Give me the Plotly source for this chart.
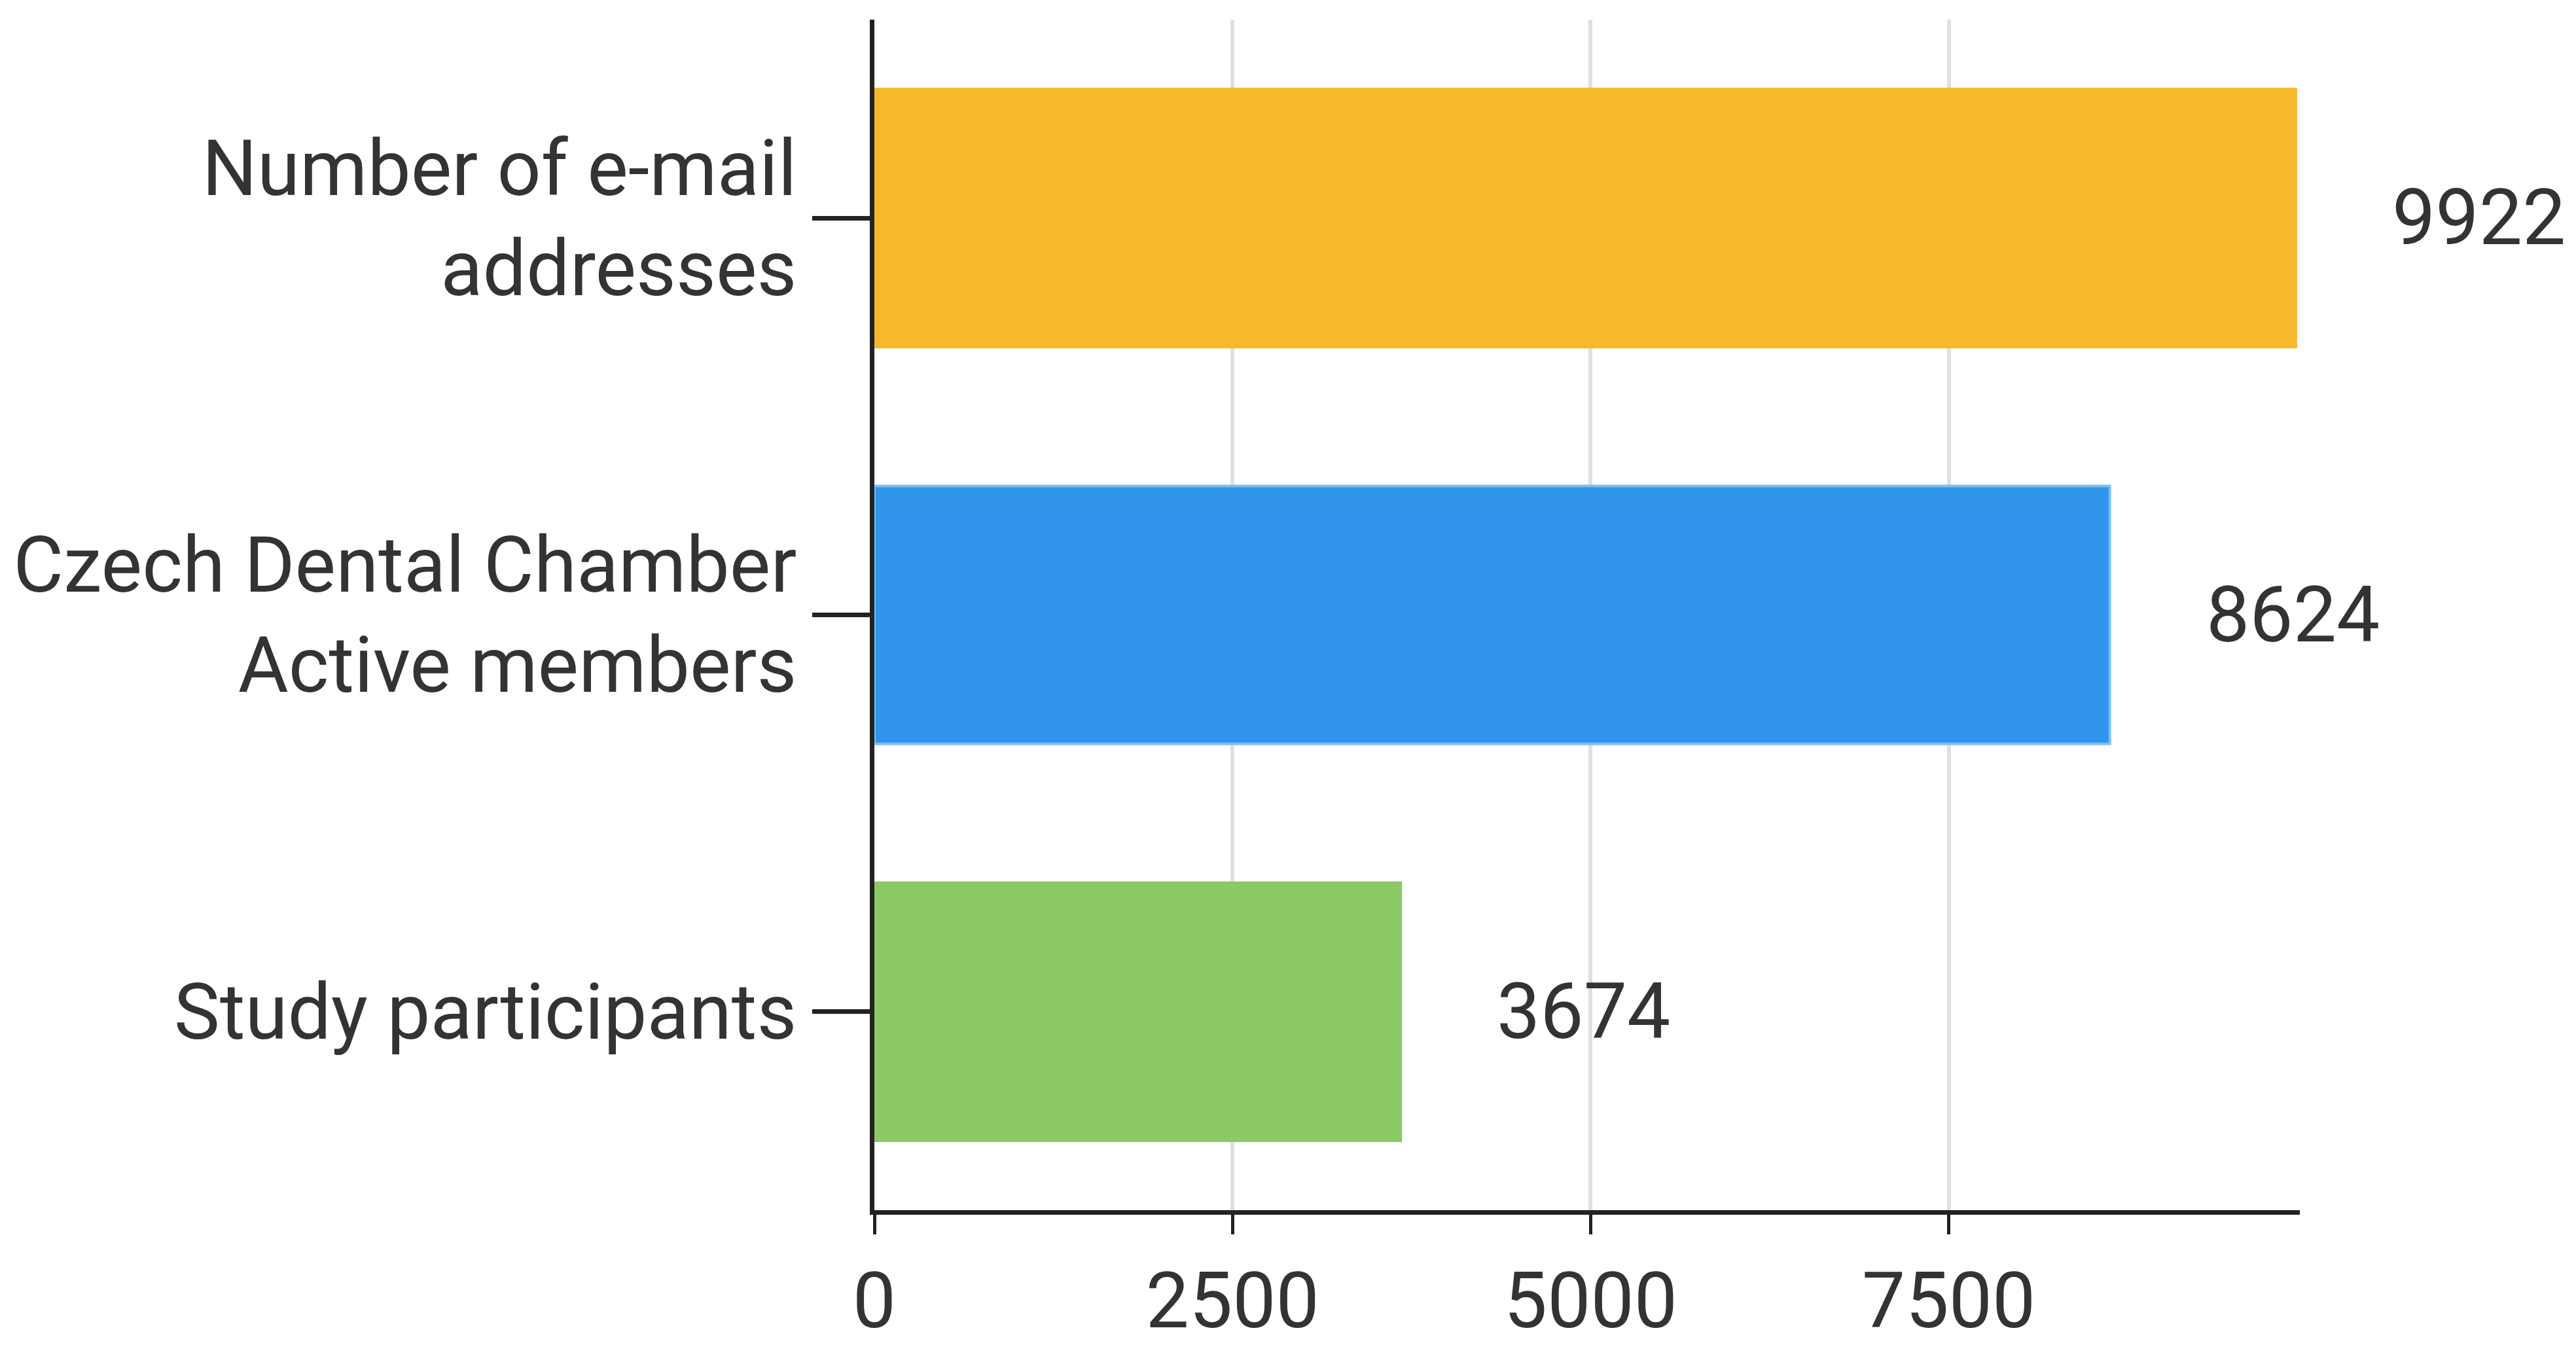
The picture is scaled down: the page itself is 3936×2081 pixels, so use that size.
import plotly.graph_objects as go

categories = ["Study participants", "Czech Dental Chamber<br>Active members", "Number of e-mail<br>addresses"]
values = [3674, 8624, 9922]
colors = ["#8BC964", "#3094EA", "#F6B92B"]
tick_vals = [0, 2500, 5000, 7500]

FONT = "Liberation Sans Narrow, Roboto"

fig = go.Figure(go.Bar(
    y=categories, x=values, orientation="h",
    marker=dict(color=colors, line=dict(color=["#8BC964", "#7FBEF2", "#F6B92B"], width=4)),
    width=0.65, hoverinfo="skip"))

for c, v in zip(categories, values):
    fig.add_annotation(x=v, y=c, text=str(v), showarrow=False, xanchor="left",
                       xshift=145, font=dict(size=118, color="#333", family=FONT))

fig.update_layout(
    width=3936, height=2081, plot_bgcolor="white", paper_bgcolor="white",
    margin=dict(l=1318, r=430, t=22, b=240), showlegend=False,
    font=dict(family=FONT, size=118, color="#333"),
    xaxis=dict(range=[0, 9950], tickvals=tick_vals, showgrid=True, gridcolor="#E0E0E0",
               gridwidth=6, zeroline=False, showline=True, linecolor="#222", linewidth=7,
               ticks="outside", ticklen=30, tickwidth=5, tickcolor="#222"),
    yaxis=dict(showline=True, linecolor="#222", linewidth=7, ticks="outside", ticklen=88,
               tickwidth=7, tickcolor="#222", showgrid=False),
)
fig.write_html("out.html")
